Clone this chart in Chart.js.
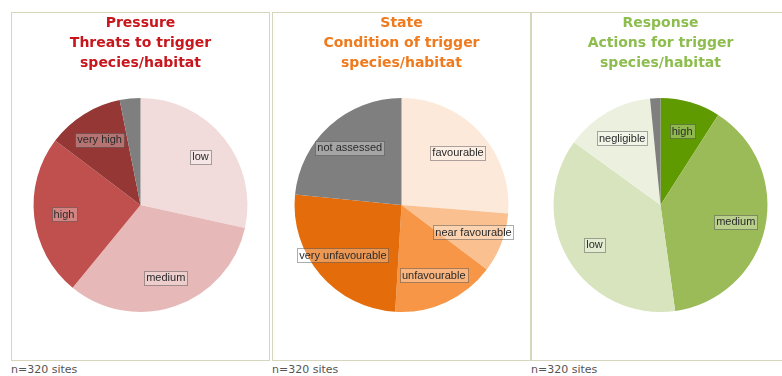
<!DOCTYPE html>
<html>
<head>
<meta charset="utf-8">
<script src="https://cdn.jsdelivr.net/npm/chart.js@4"></script>
<style>
  body { margin: 0; background: #fff; width: 782px; height: 376px; position: relative; overflow: hidden; }
  .panel { position: absolute; top: 12px; width: 259px; height: 349px; box-sizing: border-box; border: 1px solid #d6d6bd; }
  .panel canvas { position: absolute; left: 0; top: 0; }
  .note { position: absolute; top: 363px; font: 11px "DejaVu Sans", Verdana, sans-serif; color: #555; }
</style>
</head>
<body>
<div class="panel" style="left:11px"><canvas id="pressure" width="257" height="347"></canvas></div>
<div class="panel" style="left:272px"><canvas id="state" width="257" height="347"></canvas></div>
<div class="panel" style="left:531px"><canvas id="response" width="257" height="347"></canvas></div>
<div class="note" style="left:11px">n=320 sites</div>
<div class="note" style="left:272px">n=320 sites</div>
<div class="note" style="left:531px">n=320 sites</div>
<script>
// site counts per category, clockwise from 12 o'clock (unlabelled grey = unknown)
const pressureLabels = ["low", "medium", "high", "very high", ""];
const pressureValues = [91, 104, 78, 37, 10];
const pressureColors = ["#f2dcdb", "#e6b9b8", "#c0504d", "#953735", "#7f7f7f"];

const stateLabels = ["favourable", "near favourable", "unfavourable", "very unfavourable", "not assessed"];
const stateValues = [84, 29, 50, 82, 75];
const stateColors = ["#fde9d9", "#fac090", "#f79646", "#e46c0a", "#7f7f7f"];

const responseLabels = ["high", "medium", "low", "negligible", ""];
const responseValues = [29, 124, 119, 43, 5];
const responseColors = ["#5f9a00", "#9bbb59", "#d7e4bd", "#ebf1de", "#7f7f7f"];

// labels drawn inside each slice with a faint box round them
const sliceLabels = {
  id: "sliceLabels",
  afterDatasetsDraw(chart) {
    const ctx = chart.ctx;
    const meta = chart.getDatasetMeta(0);
    ctx.save();
    ctx.font = '11px "Liberation Sans", Arial, sans-serif';
    ctx.textAlign = "center";
    ctx.textBaseline = "middle";
    meta.data.forEach((arc, i) => {
      const text = chart.data.labels[i];
      if (!text) return;
      const p = arc.getProps(["x", "y", "startAngle", "endAngle", "outerRadius"], true);
      const mid = (p.startAngle + p.endAngle) / 2;
      const r = p.outerRadius * 0.72;
      const x = p.x + Math.cos(mid) * r;
      const y = p.y + Math.sin(mid) * r;
      const w = ctx.measureText(text).width + 4;
      ctx.fillStyle = "rgba(255,255,255,0.3)";
      ctx.strokeStyle = "rgba(70,70,70,0.45)";
      ctx.lineWidth = 1;
      ctx.fillRect(Math.round(x - w / 2) + 0.5, Math.round(y - 7) + 0.5, Math.round(w), 14);
      ctx.strokeRect(Math.round(x - w / 2) + 0.5, Math.round(y - 7) + 0.5, Math.round(w), 14);
      ctx.fillStyle = "#2a2a2a";
      ctx.fillText(text, x, y + 0.5);
    });
    ctx.restore();
  }
};

function makePie(id, labels, values, colors, title, titleColor) {
  new Chart(document.getElementById(id), {
    type: "pie",
    data: {
      labels: labels,
      datasets: [{
        data: values,
        backgroundColor: colors,
        borderWidth: 0,
      }],
    },
    options: {
      responsive: false,
      animation: false,
      layout: { padding: { top: 0, bottom: 48, left: 0, right: 0 } },
      plugins: {
        legend: { display: false },
        tooltip: { enabled: false },
        title: {
          display: true,
          text: title,
          color: titleColor,
          font: { family: "'DejaVu Sans', Verdana, sans-serif", size: 14, weight: "bold", lineHeight: 1.43 },
          padding: { top: 0, bottom: 25 },
        },
      },
    },
    plugins: [sliceLabels],
  });
}

makePie("pressure", pressureLabels, pressureValues, pressureColors,
  ["Pressure", "Threats to trigger", "species/habitat"], "#c8161d");
makePie("state", stateLabels, stateValues, stateColors,
  ["State", "Condition of trigger", "species/habitat"], "#f07a1e");
makePie("response", responseLabels, responseValues, responseColors,
  ["Response", "Actions for trigger", "species/habitat"], "#8dbd4f");
</script>
</body>
</html>
